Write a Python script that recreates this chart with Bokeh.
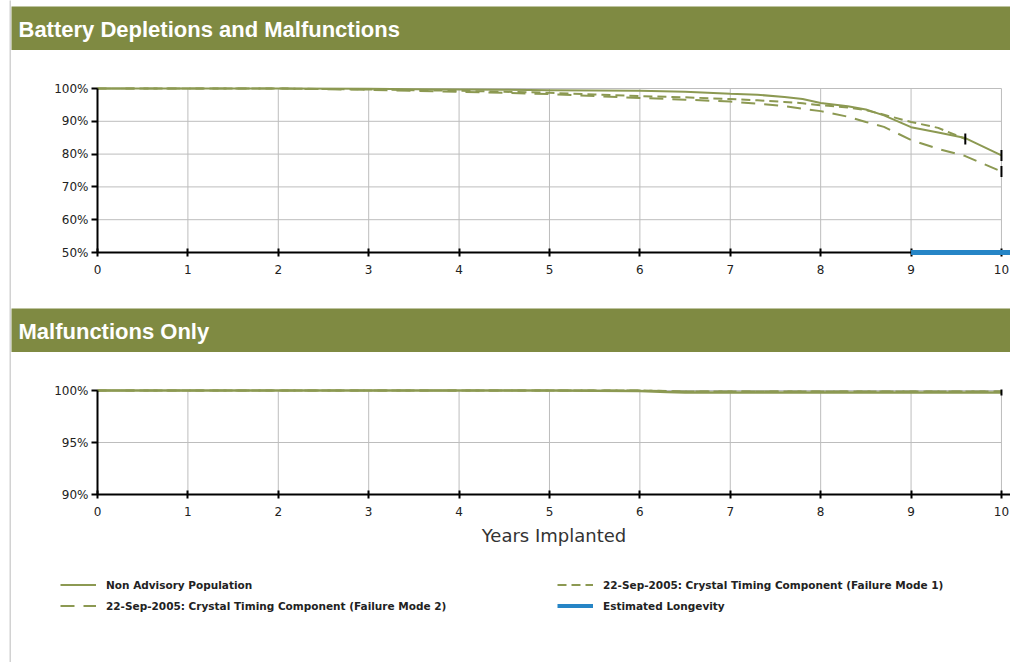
from bokeh.plotting import figure
from bokeh.layouts import row, column
from bokeh.models import (Range1d, FixedTicker, PrintfTickFormatter, Label,
                          Legend, LegendItem, Spacer)
from bokeh.embed import file_html
from bokeh.resources import INLINE
import math

# ---------------- data ----------------
years = [0, 1, 2, 3, 3.5, 4, 4.5, 5, 5.5, 6, 6.5, 7, 7.3, 7.6, 7.8, 8, 8.3, 8.5, 8.7, 9, 9.3, 9.6, 10]
nonadv_bm = [100, 100, 100, 99.9, 99.8, 99.7, 99.6, 99.5, 99.4, 99.3, 99.0, 98.4, 98.1, 97.4, 96.8, 95.6, 94.6, 93.6, 91.8, 88.2, 86.6, 84.9, 79.6]
mode1_years = [0, 1, 2, 3, 3.5, 4, 4.5, 5, 5.5, 6, 6.5, 7, 7.3, 7.6, 7.8, 8, 8.3, 8.5, 8.7, 9, 9.3, 9.6]
mode1_bm = [100, 100, 100, 99.7, 99.5, 99.3, 99.0, 98.7, 98.2, 97.7, 97.3, 96.8, 96.4, 95.9, 95.5, 94.9, 94.2, 93.4, 92.0, 89.8, 88.0, 84.6]
mode2_bm = [100, 100, 100, 99.6, 99.3, 99.0, 98.7, 98.3, 97.7, 97.1, 96.6, 96.0, 95.4, 94.6, 93.8, 93.1, 91.4, 89.8, 88.3, 84.3, 81.6, 79.4, 74.7]
longevity_years = [9, 10.1]
longevity_level = [50, 50]

m_years = [0, 1, 2, 3, 4, 5, 6, 6.3, 6.5, 7, 8, 9, 10]
nonadv_m = [100, 100, 100, 100, 100, 100, 99.95, 99.85, 99.8, 99.8, 99.8, 99.8, 99.8]
mode1_m = [100, 100, 100, 100, 100, 100, 100, 99.95, 99.9, 99.9, 99.9, 99.9, 99.9]
mode2_m = [100, 100, 100, 100, 100, 100, 100, 99.95, 99.9, 99.9, 99.9, 99.9, 99.9]

x_ticks = [0, 1, 2, 3, 4, 5, 6, 7, 8, 9, 10]
y_ticks_bm = [50, 60, 70, 80, 90, 100]
y_ticks_m = [90, 95, 100]

labels = ["Non Advisory Population",
          "22-Sep-2005: Crystal Timing Component (Failure Mode 1)",
          "22-Sep-2005: Crystal Timing Component (Failure Mode 2)",
          "Estimated Longevity"]
titles = ["Battery Depletions and Malfunctions", "Malfunctions Only"]

# ---------------- styles ----------------
OLIVE = "#7f8a42"
LINE = "#8c9952"
BLUE = "#2685c6"
GRID = "#bdbdbd"
DASH1 = "9 5"
DASH2 = "14 9"
W = 999          # content width (page x 11 .. 1010)
LB = 86          # offset of the x=0 position -> page x 97
X_END = 10.1
X_START = -LB / ((W - LB) / X_END)
TICK_FONT = "DejaVu Sans"


def header(title, h):
    p = figure(width=W, height=h, x_range=Range1d(0, 1), y_range=Range1d(0, 1),
               x_axis_type=None, y_axis_type=None, toolbar_location=None,
               output_backend="svg", min_border=0)
    p.background_fill_color = OLIVE
    p.border_fill_color = OLIVE
    p.outline_line_color = None
    p.grid.visible = False
    p.add_layout(Label(x=7, y=h / 2 - 1, x_units="screen", y_units="screen", text=title,
                       text_baseline="middle", text_font="Liberation Sans",
                       text_font_style="bold", text_font_size="22px", text_color="white"))
    return p


def chart(h, top, bottom, ylo, yhi, yticks):
    # whole figure is the frame; axes are pinned at x=0 and y=ylo
    ppu = (h - top - bottom) / (yhi - ylo)
    p = figure(width=W, height=h, x_range=Range1d(X_START, X_END),
               y_range=Range1d(ylo - bottom / ppu, yhi + top / ppu),
               toolbar_location=None, output_backend="svg", min_border=0)
    p.outline_line_color = None
    p.background_fill_color = "white"
    p.border_fill_color = "white"
    p.grid.visible = False
    # grid lines
    p.segment(x0=[0] * len(yticks), x1=[10] * len(yticks), y0=yticks, y1=yticks,
              line_color=GRID, line_width=1)
    p.segment(x0=x_ticks, x1=x_ticks, y0=[ylo] * len(x_ticks), y1=[yhi] * len(x_ticks),
              line_color=GRID, line_width=1)
    p.xaxis.ticker = FixedTicker(ticks=x_ticks)
    p.xaxis.bounds = (0, X_END)
    p.xaxis.fixed_location = ylo
    p.yaxis.ticker = FixedTicker(ticks=yticks)
    p.yaxis.bounds = (ylo, yhi)
    p.yaxis.formatter = PrintfTickFormatter(format="%d%%")
    p.yaxis.fixed_location = 0
    for ax in (p.xaxis, p.yaxis):
        ax.axis_line_color = "black"
        ax.axis_line_width = 2
        ax.major_tick_line_color = "black"
        ax.major_tick_line_width = 2
        ax.minor_tick_line_color = None
        ax.major_label_text_font = TICK_FONT
        ax.major_label_text_font_size = "12px"
        ax.major_label_text_color = "#222222"
    p.yaxis.major_tick_in = 0
    p.yaxis.major_tick_out = 6
    p.yaxis.major_label_standoff = 3
    p.xaxis.major_tick_in = 4
    p.xaxis.major_tick_out = 4
    p.xaxis.major_label_standoff = 8
    return p


# ---------------- chart 1 ----------------
h1 = header(titles[0], 44)
p1 = chart(258, 38, 56, 50, 100, y_ticks_bm)
p1.line(years, nonadv_bm, line_color=LINE, line_width=2)
p1.line(mode1_years, mode1_bm, line_color=LINE, line_width=2, line_dash=DASH1)
p1.line(years, mode2_bm, line_color=LINE, line_width=2, line_dash=DASH2)
p1.scatter([years[-1], mode1_years[-1], years[-1]], [nonadv_bm[-1], mode1_bm[-1], mode2_bm[-1]],
           marker="dash", angle=math.pi / 2, size=11, line_color="black", line_width=2)
bl = p1.line(longevity_years, longevity_level, line_color=BLUE, line_width=5)
bl.level = "overlay"

# ---------------- chart 2 ----------------
h2 = header(titles[1], 44)
p2 = chart(208, 38, 66, 90, 100, y_ticks_m)
p2.line(m_years, mode1_m, line_color=LINE, line_width=2, line_dash=DASH1)
p2.line(m_years, mode2_m, line_color=LINE, line_width=2, line_dash=DASH2)
p2.line(m_years, nonadv_m, line_color=LINE, line_width=2.5)
p2.scatter([m_years[-1]], [nonadv_m[-1]], marker="dash", angle=math.pi / 2, size=6,
           line_color="black", line_width=2)
p2.xaxis.axis_label = "Years Implanted"
p2.xaxis.axis_label_text_font = TICK_FONT
p2.xaxis.axis_label_text_font_size = "18px"
p2.xaxis.axis_label_text_font_style = "normal"
p2.xaxis.axis_label_text_color = "#333333"
p2.xaxis.axis_label_standoff = 6

# ---------------- legend ----------------
lg = figure(width=W, height=102, x_range=Range1d(0, 1), y_range=Range1d(0, 1),
            x_axis_type=None, y_axis_type=None, toolbar_location=None,
            output_backend="svg", min_border=0)
lg.outline_line_color = None
lg.grid.visible = False
# legend sample renderers: data lies outside the visible range
off_x = [-5, -4]
off_y = [-5, -5]
r0 = lg.line(off_x, off_y, line_color=LINE, line_width=2)
r1 = lg.line(off_x, off_y, line_color=LINE, line_width=2, line_dash=DASH1)
r2 = lg.line(off_x, off_y, line_color=LINE, line_width=2, line_dash=DASH2)
r3 = lg.line(off_x, off_y, line_color=BLUE, line_width=4)


def mk_legend(items, x):
    leg = Legend(items=items, location=(x, 49), orientation="vertical")
    leg.glyph_width = 36
    leg.glyph_height = 15
    leg.label_height = 15
    leg.label_standoff = 10
    leg.spacing = 6
    leg.padding = 0
    leg.margin = 0
    leg.border_line_color = None
    leg.background_fill_alpha = 0
    leg.label_text_font = TICK_FONT
    leg.label_text_font_size = "10.5px"
    leg.label_text_font_style = "bold"
    leg.label_text_color = "#222222"
    return leg


lg.add_layout(mk_legend([LegendItem(label=labels[0], renderers=[r0]),
                         LegendItem(label=labels[2], renderers=[r2])], 60 - 11))
lg.add_layout(mk_legend([LegendItem(label=labels[1], renderers=[r1]),
                         LegendItem(label=labels[3], renderers=[r3])], 557 - 11))

# ---------------- left border strip ----------------
strip = figure(width=11, height=662, x_range=Range1d(0, 1), y_range=Range1d(0, 1),
               x_axis_type=None, y_axis_type=None, toolbar_location=None,
               output_backend="svg", min_border=0, min_border_left=9)
strip.background_fill_color = "#d2d2d2"
strip.border_fill_color = "white"
strip.outline_line_color = None
strip.grid.visible = False

layout = row(strip, column(Spacer(width=W, height=6), h1, p1, h2, p2, lg))
open("out.html", "w").write(file_html(layout, INLINE))
